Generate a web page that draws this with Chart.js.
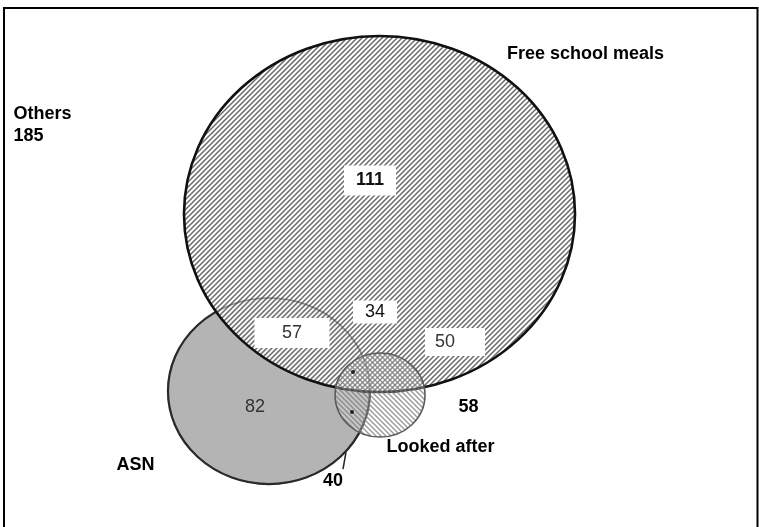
<!DOCTYPE html>
<html>
<head>
<meta charset="utf-8">
<script src="https://cdn.jsdelivr.net/npm/chart.js@4"></script>
<style>
  html, body { margin: 0; padding: 0; background: #fff; }
  canvas { display: block; }
</style>
</head>
<body>
<canvas id="venn" width="759" height="527"></canvas>
<script>
// Venn geometry in chart units (x and y both 0..100, y grows downwards)
const setNames = ['Free school meals', 'ASN', 'Looked after'];
const setCx = [50.0, 35.44, 50.07];
const setCy = [40.6, 74.2, 74.95];
const setRx = [25.76, 13.31, 5.93];
const setRy = [33.78, 17.65, 7.97];

// region counts
const regionText = ['111', '34', '57', '50', '82'];
const regionX = [48.75, 49.41, 38.47, 58.63, 33.6];
const regionY = [34.25, 59.2, 63.19, 64.9, 77.3];

// outside labels
const outerText = ['Free school meals', 'Others', '185', 'Looked after', '58', 'ASN', '40'];
const outerX = [77.14, 1.78, 1.78, 58.04, 61.73, 17.85, 43.87];
const outerY = [10.25, 21.63, 25.8, 84.82, 77.23, 88.33, 91.27];

// small markers where the tiny overlaps are
const dotX = [46.51, 46.38];
const dotY = [70.59, 78.18];

const FONT = '"Liberation Sans", Arial, sans-serif';

function hatch(ctx, dir, color, bg, size, width) {
  const c = document.createElement('canvas');
  c.width = c.height = size;
  const g = c.getContext('2d');
  if (bg) { g.fillStyle = bg; g.fillRect(0, 0, size, size); }
  g.strokeStyle = color;
  g.lineWidth = width;
  g.beginPath();
  if (dir === '/') {
    g.moveTo(-1, size + 1); g.lineTo(size + 1, -1);
    g.moveTo(-1, 1); g.lineTo(1, -1);
    g.moveTo(size - 1, size + 1); g.lineTo(size + 1, size - 1);
  } else {
    g.moveTo(-1, -1); g.lineTo(size + 1, size + 1);
    g.moveTo(size - 1, -1); g.lineTo(size + 1, 1);
    g.moveTo(-1, size - 1); g.lineTo(1, size + 1);
  }
  g.stroke();
  return ctx.createPattern(c, 'repeat');
}

const vennPlugin = {
  id: 'venn',
  afterDatasetsDraw(chart) {
    const ctx = chart.ctx;
    const xs = chart.scales.x, ys = chart.scales.y;
    const px = v => xs.getPixelForValue(v);
    const py = v => ys.getPixelForValue(v);
    const path = i => {
      const cx = px(setCx[i]), cy = py(setCy[i]);
      const rx = Math.abs(px(setCx[i] + setRx[i]) - cx);
      const ry = Math.abs(py(setCy[i] + setRy[i]) - cy);
      ctx.beginPath();
      ctx.ellipse(cx, cy, rx, ry, 0, 0, Math.PI * 2);
    };
    ctx.save();

    // frame
    ctx.strokeStyle = '#000';
    ctx.lineWidth = 2;
    ctx.beginPath();
    ctx.moveTo(4, 527); ctx.lineTo(4, 8); ctx.lineTo(757.5, 8); ctx.lineTo(757.5, 527);
    ctx.stroke();

    // ASN: solid grey
    path(1);
    ctx.fillStyle = '#b4b4b4';
    ctx.fill();
    ctx.strokeStyle = '#262626';
    ctx.lineWidth = 2.2;
    ctx.stroke();

    // Free school meals: hatched, mostly opaque
    path(0);
    ctx.fillStyle = hatch(ctx, '/', '#6a6a6a', 'rgba(255,255,255,0.88)', 5, 1.5);
    ctx.fill();

    // ASN outline shows faintly through
    path(1);
    ctx.strokeStyle = 'rgba(50,50,50,0.45)';
    ctx.lineWidth = 1.5;
    ctx.stroke();

    path(0);
    ctx.strokeStyle = '#111';
    ctx.lineWidth = 2.6;
    ctx.stroke();

    // Looked after: light back-hatch
    path(2);
    ctx.fillStyle = hatch(ctx, '\\', 'rgba(120,120,120,0.75)', 'rgba(255,255,255,0.25)', 5, 1.4);
    ctx.fill();
    ctx.strokeStyle = '#5a5a5a';
    ctx.lineWidth = 1.5;
    ctx.stroke();

    // markers and leader line
    ctx.fillStyle = '#222';
    dotX.forEach((x, i) => {
      ctx.beginPath();
      ctx.arc(px(x), py(dotY[i]), 2, 0, Math.PI * 2);
      ctx.fill();
    });
    ctx.strokeStyle = '#222';
    ctx.lineWidth = 1.5;
    ctx.beginPath();
    ctx.moveTo(px(45.19), py(89.0));
    ctx.lineTo(px(45.59), py(85.77));
    ctx.stroke();

    // region labels with white boxes
    const boxW = [52, 44, 75, 60, 0];
    const boxH = [30, 23, 30, 28, 0];
    const boxDx = [0, 0, 0, 10, 0];
    const regionColor = ['#111', '#111', '#333', '#333', '#333'];
    ctx.textAlign = 'center';
    ctx.textBaseline = 'middle';
    regionText.forEach((t, i) => {
      const x = px(regionX[i]), y = py(regionY[i]);
      if (boxW[i]) {
        ctx.fillStyle = '#fff';
        ctx.fillRect(x + boxDx[i] - boxW[i] / 2, y - boxH[i] / 2, boxW[i], boxH[i]);
      }
      ctx.fillStyle = regionColor[i];
      ctx.font = (i === 0 ? 'bold ' : '') + '18px ' + FONT;
      ctx.fillText(t, x, y);
    });

    // outside labels
    ctx.fillStyle = '#000';
    ctx.font = 'bold 18px ' + FONT;
    outerText.forEach((t, i) => {
      ctx.textAlign = (i === 1 || i === 2) ? 'left' : 'center';
      ctx.fillText(t, px(outerX[i]), py(outerY[i]));
    });
    ctx.restore();
  }
};

new Chart(document.getElementById('venn'), {
  type: 'scatter',
  data: {
    datasets: setNames.map((name, i) => ({
      label: name,
      data: [{ x: setCx[i], y: setCy[i] }],
      pointRadius: 0,
      pointHoverRadius: 0
    }))
  },
  options: {
    responsive: false,
    animation: false,
    devicePixelRatio: 1,
    layout: { padding: 0 },
    events: [],
    plugins: { legend: { display: false }, tooltip: { enabled: false } },
    scales: {
      x: { type: 'linear', min: 0, max: 100, display: false },
      y: { type: 'linear', min: 0, max: 100, reverse: true, display: false }
    }
  },
  plugins: [vennPlugin]
});
</script>
</body>
</html>
